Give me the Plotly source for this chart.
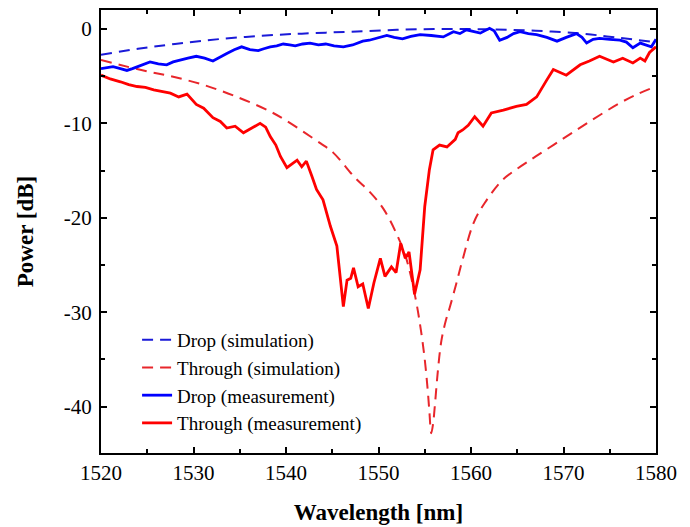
import plotly.graph_objects as go

# ---------------- data ----------------
drop_sim_x = [1520, 1524, 1528, 1533, 1539, 1543, 1547, 1552, 1557, 1562, 1567, 1572, 1576, 1580]
drop_sim_y = [-2.75, -2.1, -1.6, -1.06, -0.63, -0.45, -0.3, -0.1, 0.0, -0.05, -0.2, -0.5, -0.95, -1.4]

through_sim_x = [1520, 1522, 1525, 1527.5, 1531, 1534.7, 1538.3, 1540, 1543.7, 1545.1, 1547.5,
                 1549, 1550.5, 1552, 1553, 1554, 1554.6, 1555.0, 1555.3, 1555.5, 1555.7,
                 1555.9, 1556.1, 1556.4, 1556.8, 1557.3, 1557.7, 1558.4, 1559.1, 1560.3,
                 1561.5, 1563.4, 1565, 1567, 1570, 1573, 1576, 1578, 1580]
through_sim_y = [-3.3, -3.8, -4.5, -5.0, -5.9, -7.2, -8.75, -9.7, -12.1, -13.1, -15.8,
                 -17.2, -19.0, -21.8, -24.3, -28.5, -32.0, -35.0, -38.0, -40.5, -42.8,
                 -41.8, -39.8, -36.4, -33.0, -30.8, -29.5, -27.0, -24.4, -20.5,
                 -18.4, -16.0, -14.8, -13.5, -11.6, -9.7, -7.9, -6.9, -6.1]

drop_meas_x = [1520, 1520.7, 1521.3, 1522.1, 1522.8, 1523.4, 1523.9, 1524.6, 1525.3, 1526.2, 1527.1,
               1527.8, 1528.5, 1529.4, 1530.3, 1531.2, 1532.1, 1532.8, 1533.6, 1534.4, 1535.2,
               1536.1, 1537.0, 1537.6, 1538.3, 1539.0, 1539.7, 1540.4, 1541.0, 1541.8, 1542.6,
               1543.5, 1544.3, 1545.2, 1546.2, 1547.2, 1548.3, 1549.0, 1549.9, 1550.9, 1551.7,
               1552.6, 1553.5, 1554.5, 1555.7, 1557.0, 1558.1, 1558.8, 1559.5, 1560.3, 1561.0,
               1562.0, 1562.5, 1563.1, 1563.9, 1564.6, 1565.3, 1566.2, 1567.1, 1568.2, 1569.3,
               1570.3, 1571.4, 1572.0, 1572.5, 1573.2, 1573.9, 1575.0, 1576.1, 1576.8, 1577.5,
               1578.3, 1579.0, 1579.5, 1580]
drop_meas_y = [-4.2, -4.1, -4.0, -4.2, -4.4, -4.2, -4.0, -3.8, -3.5, -3.7, -3.8,
               -3.5, -3.3, -3.1, -2.9, -3.1, -3.4, -3.0, -2.6, -2.2, -1.9,
               -2.2, -2.3, -2.1, -1.9, -1.8, -1.6, -1.7, -1.8, -1.6, -1.5,
               -1.7, -1.6, -1.8, -1.9, -1.7, -1.3, -1.2, -1.0, -0.7, -0.9,
               -1.05, -0.8, -0.6, -0.7, -0.85, -0.3, -0.5, -0.1, -0.3, -0.45,
               0.07, -0.2, -1.2, -0.9, -0.5, -0.3, -0.5, -0.6, -0.9, -1.3,
               -0.9, -0.5, -0.9, -1.5, -1.1, -1.0, -1.1, -1.2, -1.4, -2.0,
               -1.5, -1.7, -1.9, -1.1]

through_meas_x = [1520, 1521, 1522.1, 1523.0, 1523.9, 1524.8, 1525.7, 1526.6, 1527.5, 1528.4,
                  1529.3, 1530.3, 1531.1, 1532.1, 1532.9, 1533.6, 1534.5, 1535.4, 1536.3, 1537.2,
                  1537.8, 1538.3, 1538.9, 1539.4, 1540.1, 1540.7, 1541.2, 1541.7, 1542.2, 1542.8,
                  1543.3, 1544.0, 1544.8, 1545.5, 1545.8, 1546.2, 1546.6, 1547.0, 1547.3, 1547.8,
                  1548.3, 1548.9, 1549.5, 1550.2, 1550.7, 1551.4, 1551.9, 1552.4, 1552.9, 1553.3,
                  1553.9, 1554.5, 1555.0, 1555.5, 1555.9, 1556.6, 1557.4, 1558.3, 1558.6, 1559.1,
                  1559.7, 1560.4, 1561.3, 1562.2, 1563.5, 1564.9, 1566.0, 1567.1, 1568.2, 1568.9,
                  1570.3, 1571.8, 1572.8, 1573.9, 1575.4, 1576.4, 1577.5, 1578.3, 1578.8, 1579.3,
                  1580]
through_meas_y = [-4.9, -5.3, -5.6, -5.9, -6.1, -6.2, -6.45, -6.6, -6.8, -7.2,
                  -6.9, -8.0, -8.4, -9.4, -9.8, -10.5, -10.3, -11.0, -10.5, -10.0,
                  -10.4, -11.4, -12.3, -13.5, -14.7, -14.3, -13.9, -14.6, -14.0, -15.6,
                  -17.0, -18.1, -20.9, -23.0, -25.8, -29.4, -26.6, -26.4, -25.3, -27.3,
                  -27.0, -29.6, -26.9, -24.3, -26.2, -25.2, -25.8, -22.7, -24.3, -23.6,
                  -28.1, -25.5, -18.8, -14.9, -12.8, -12.3, -12.5, -11.7, -11.0, -10.7,
                  -10.2, -9.3, -10.3, -8.9, -8.6, -8.2, -8.0, -7.2, -5.4, -4.3,
                  -4.9, -3.8, -3.4, -2.9, -3.5, -3.1, -3.6, -3.1, -3.4, -2.5,
                  -1.9]

x_ticks = [1520, 1530, 1540, 1550, 1560, 1570, 1580]
x_tick_text = ["1520", "1530", "1540", "1550", "1560", "1570", "1580"]
y_ticks = [0, -10, -20, -30, -40]
y_tick_text = ["0", "-10", "-20", "-30", "-40"]

series_names = ["Drop (simulation)", "Through (simulation)", "Drop (measurement)", "Through (measurement)"]

# ---------------- figure ----------------
FONT = "Liberation Serif, Times New Roman, serif"
BLUE = "#0000ff"
RED = "#ff0000"
BLUE_D = "#1a1ad8"
RED_D = "#e8262b"

fig = go.Figure()
fig.add_trace(go.Scatter(x=drop_sim_x, y=drop_sim_y, mode="lines", name=series_names[0],
                         line=dict(color=BLUE_D, width=2, dash="11px,7px", shape="spline")))
fig.add_trace(go.Scatter(x=through_sim_x, y=through_sim_y, mode="lines", name=series_names[1],
                         line=dict(color=RED_D, width=2, dash="11px,7px", shape="spline")))
fig.add_trace(go.Scatter(x=drop_meas_x, y=drop_meas_y, mode="lines", name=series_names[2],
                         line=dict(color=BLUE, width=2.8)))
fig.add_trace(go.Scatter(x=through_meas_x, y=through_meas_y, mode="lines", name=series_names[3],
                         line=dict(color=RED, width=2.8)))

axis_common = dict(
    showline=True, linecolor="black", linewidth=2, mirror="ticks",
    ticks="inside", ticklen=6, tickwidth=2, tickcolor="black",
    showgrid=False, zeroline=False, automargin=False,
    tickfont=dict(family=FONT, size=21, color="black"),
)

fig.update_xaxes(
    range=[1520, 1580], tickvals=x_ticks, ticktext=x_tick_text,
    minor=dict(ticks="inside", ticklen=4, tickwidth=2, tickcolor="black", dtick=5, tick0=1520),
    title=dict(text="<b>Wavelength [nm]</b>", font=dict(family=FONT, size=23, color="black"), standoff=20),
    **axis_common,
)
fig.update_yaxes(
    range=[-44.9, 2.0], tickvals=y_ticks, ticktext=y_tick_text,
    minor=dict(ticks="inside", ticklen=4, tickwidth=2, tickcolor="black", dtick=5, tick0=0),
    title=dict(text="<b>Power [dB]</b>", font=dict(family=FONT, size=23, color="black"), standoff=24),
    ticklabelstandoff=3,
    **axis_common,
)

fig.update_layout(
    width=690, height=527,
    margin=dict(l=101, r=34, t=10, b=74),
    paper_bgcolor="white", plot_bgcolor="white",
    showlegend=True,
    legend=dict(x=0.065, y=0.025, xanchor="left", yanchor="bottom",
                bgcolor="rgba(0,0,0,0)", borderwidth=0,
                font=dict(family=FONT, size=19, color="black"),
                tracegroupgap=0),
)

fig.write_html("out.html", config={"displayModeBar": False},
               post_script="document.body.style.margin='0';")
